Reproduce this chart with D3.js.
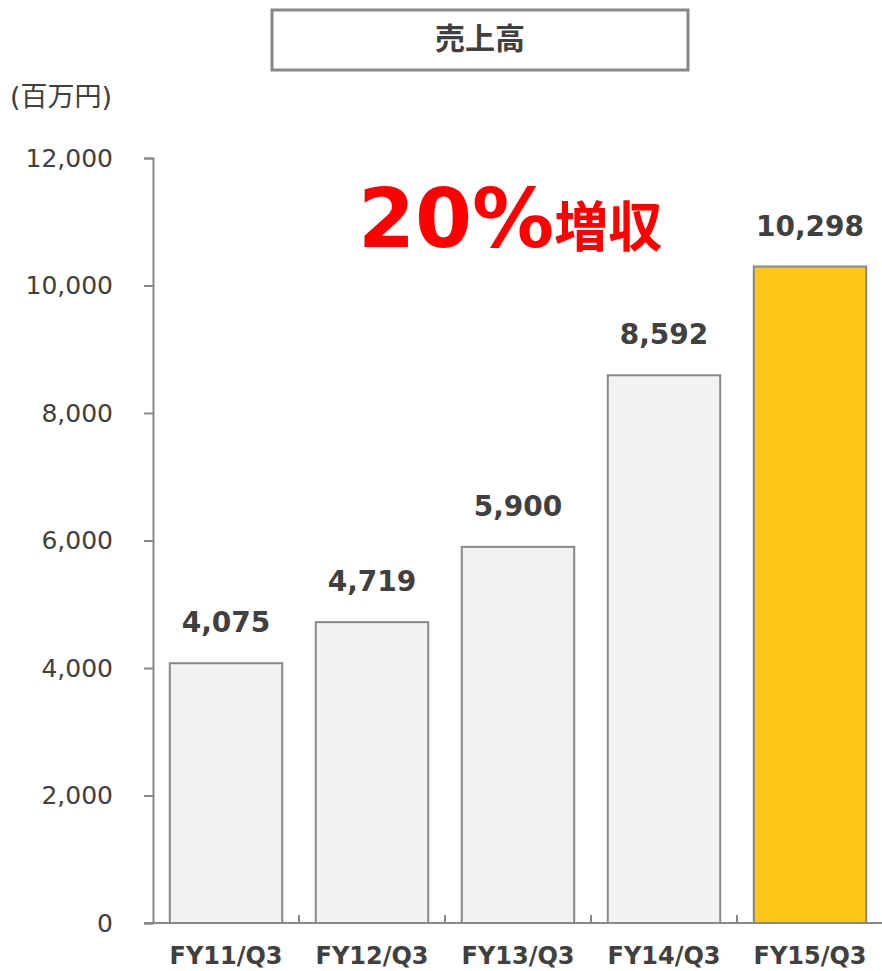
<!DOCTYPE html>
<html>
<head>
<meta charset="utf-8">
<script src="https://cdn.jsdelivr.net/npm/d3@7"></script>
<style>
  body { margin: 0; background: #fff; }
  #chart { width: 882px; height: 971px; }
</style>
</head>
<body>
<div id="chart"></div>
<script>
const categories = ["FY11/Q3", "FY12/Q3", "FY13/Q3", "FY14/Q3", "FY15/Q3"];
const sales = [4075, 4719, 5900, 8592, 10298];
const yTicks = [0, 2000, 4000, 6000, 8000, 10000, 12000];
const title = "売上高";
const unitLabel = "(百万円)";
const growthPct = "20%";
const growthWord = "増収";

const W = 882, H = 971;
const plot = { left: 153, right: 883, top: 158, bottom: 923 };

const svg = d3.select("#chart")
    .append("svg")
    .attr("width", W)
    .attr("height", H);

const x = d3.scaleBand()
    .domain(categories)
    .range([plot.left, plot.right])
    .paddingInner(0.23)
    .paddingOuter(0.115);

const y = d3.scaleLinear()
    .domain([0, 12000])
    .range([plot.bottom, plot.top]);

// title box
svg.append("rect")
    .attr("x", 272).attr("y", 10)
    .attr("width", 416).attr("height", 60)
    .attr("fill", "#fff")
    .attr("stroke", "#888")
    .attr("stroke-width", 3);

svg.append("text")
    .attr("x", 480).attr("y", 49)
    .attr("text-anchor", "middle")
    .style("font-family", "'Noto Sans CJK JP', sans-serif")
    .style("font-size", "30px")
    .style("font-weight", "bold")
    .attr("fill", "#404040")
    .text(title);

// unit
svg.append("text")
    .attr("x", 10).attr("y", 106)
    .style("font-family", "'DejaVu Sans', 'Noto Sans CJK JP', sans-serif")
    .style("font-size", "27px")
    .attr("fill", "#404040")
    .text(unitLabel);

// y axis
const yAxis = svg.append("g")
    .attr("transform", `translate(${plot.left},0)`)
    .call(d3.axisLeft(y)
        .tickValues(yTicks)
        .tickSize(9)
        .tickPadding(31)
        .tickFormat(d3.format(",")));
yAxis.select(".domain").attr("stroke", "#888").attr("stroke-width", 2);
yAxis.selectAll(".tick line").attr("stroke", "#888").attr("stroke-width", 2);
yAxis.selectAll(".tick text")
    .attr("fill", "#404040")
    .style("font-family", "'DejaVu Sans', sans-serif")
    .style("font-size", "25px");

// bars
svg.selectAll(".bar")
    .data(sales)
    .enter()
    .append("rect")
    .attr("class", "bar")
    .attr("x", (d, i) => x(categories[i]))
    .attr("y", d => y(d))
    .attr("width", x.bandwidth())
    .attr("height", d => y(0) - y(d))
    .attr("fill", (d, i) => i === sales.length - 1 ? "#FFC61A" : "#F2F2F2")
    .attr("stroke", "#888")
    .attr("stroke-width", 2);

// value labels
svg.selectAll(".val")
    .data(sales)
    .enter()
    .append("text")
    .attr("class", "val")
    .attr("x", (d, i) => x(categories[i]) + x.bandwidth() / 2)
    .attr("y", d => y(d) - 31)
    .attr("text-anchor", "middle")
    .style("font-family", "'DejaVu Sans', sans-serif")
    .style("font-size", "28px")
    .style("font-weight", "bold")
    .attr("fill", "#404040")
    .text(d => d3.format(",")(d));

// x axis
const xAxis = svg.append("g")
    .attr("transform", `translate(0,${plot.bottom})`)
    .call(d3.axisBottom(x).tickSize(0).tickPadding(24));
xAxis.select(".domain").attr("stroke", "#888").attr("stroke-width", 2)
    .attr("d", `M${plot.left - 9},0H${W}`);
xAxis.selectAll(".tick text")
    .attr("fill", "#404040")
    .style("font-family", "'DejaVu Sans', sans-serif")
    .style("font-size", "24px")
    .style("font-weight", "bold");

// category boundary ticks
const gap = x.step() * x.paddingInner() / 2;
svg.selectAll(".sep")
    .data(categories.slice(0, -1))
    .enter()
    .append("line")
    .attr("class", "sep")
    .attr("x1", d => x(d) + x.bandwidth() + gap)
    .attr("x2", d => x(d) + x.bandwidth() + gap)
    .attr("y1", plot.bottom)
    .attr("y2", plot.bottom - 8)
    .attr("stroke", "#888")
    .attr("stroke-width", 2);

// growth callout
const callout = svg.append("text")
    .attr("x", 358).attr("y", 247)
    .attr("fill", "#FF0000")
    .style("font-weight", "bold");
callout.append("tspan")
    .style("font-family", "'DejaVu Sans', sans-serif")
    .style("font-size", "82px")
    .text(growthPct);
callout.append("tspan")
    .style("font-family", "'Noto Sans CJK JP', sans-serif")
    .style("font-size", "54px")
    .text(growthWord);
</script>
</body>
</html>
